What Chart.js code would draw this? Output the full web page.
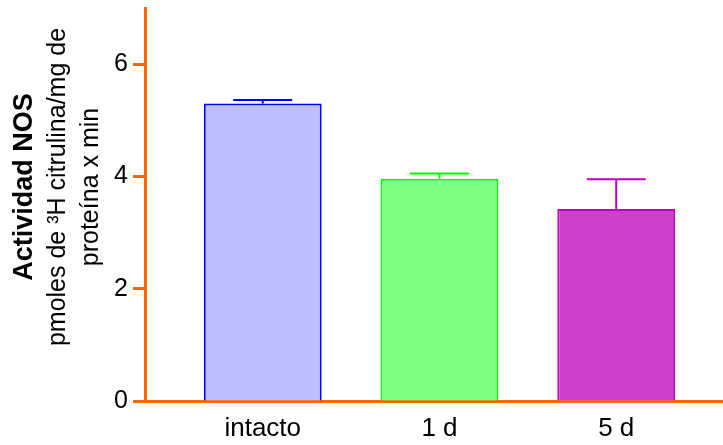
<!DOCTYPE html>
<html>
<head>
<meta charset="utf-8">
<script src="https://cdn.jsdelivr.net/npm/chart.js@4/dist/chart.umd.min.js"></script>
<style>
  html, body { margin: 0; padding: 0; background: #fff; }
</style>
</head>
<body>
<canvas id="grafico" width="723" height="445"></canvas>
<script>
// grupos y actividad NOS (media y error superior)
const grupos = ['intacto', '1 d', '5 d'];
const actividad = [5.30, 3.96, 3.42];
const errorSup = [0.06, 0.09, 0.53];
const ticksY = [0, 2, 4, 6];

const relleno = ['#BFBFFF', '#80FF80', '#CC40CC'];
const bordes = ['#0000FF', '#00FF00', '#C000C0'];
const naranja = '#FF6600';

// titulo del eje y en tres lineas (la primera en negrita)
const tituloY = {
  id: 'tituloY',
  afterDraw(chart) {
    const ctx = chart.ctx;
    const lineas = [
      { texto: 'Actividad NOS', x: 25, font: 'bold 27px "Liberation Sans", Arial, sans-serif' },
      { texto: 'pmoles de ³H citrulina/mg de', x: 58, font: '25px "Liberation Sans", Arial, sans-serif' },
      { texto: 'proteína x min', x: 91, font: '25px "Liberation Sans", Arial, sans-serif' }
    ];
    ctx.save();
    ctx.fillStyle = '#000';
    ctx.textAlign = 'center';
    ctx.textBaseline = 'middle';
    lineas.forEach((l) => {
      ctx.save();
      ctx.translate(l.x, 187);
      ctx.rotate(-Math.PI / 2);
      ctx.font = l.font;
      ctx.fillText(l.texto, 0, 0);
      ctx.restore();
    });
    ctx.restore();
  }
};

// barras de error (solo hacia arriba)
const barrasError = {
  id: 'barrasError',
  afterDatasetsDraw(chart) {
    const ctx = chart.ctx;
    const y = chart.scales.y;
    const meta = chart.getDatasetMeta(0);
    meta.data.forEach((barra, i) => {
      const yTop = y.getPixelForValue(actividad[i] + errorSup[i]);
      const media = barra.width / 4;
      ctx.save();
      ctx.strokeStyle = bordes[i];
      ctx.lineWidth = 2;
      ctx.beginPath();
      ctx.moveTo(barra.x, barra.y);
      ctx.lineTo(barra.x, yTop);
      ctx.moveTo(barra.x - media, yTop);
      ctx.lineTo(barra.x + media, yTop);
      ctx.stroke();
      ctx.restore();
    });
  }
};

const datos = grupos.map((g, i) => ({ x: i + 1, y: actividad[i] }));

new Chart(document.getElementById('grafico'), {
  type: 'bar',
  data: {
    datasets: [{
      data: datos,
      backgroundColor: relleno,
      borderColor: bordes,
      borderWidth: 2,
      categoryPercentage: 1,
      barPercentage: 0.667
    }]
  },
  options: {
    responsive: false,
    animation: false,
    devicePixelRatio: 1,
    layout: { padding: { top: 8, right: 0, left: 0, bottom: 0 } },
    plugins: {
      legend: { display: false },
      tooltip: { enabled: false }
    },
    scales: {
      x: {
        type: 'linear',
        min: 0.334,
        max: 3.604,
        offset: false,
        grid: { display: false, drawTicks: false },
        border: { display: true, color: naranja, width: 3 },
        afterBuildTicks: (scale) => {
          scale.ticks = grupos.map((g, i) => ({ value: i + 1 }));
        },
        afterFit: (scale) => {
          scale.height = 44;
          scale.paddingLeft = 0;
          scale.paddingRight = 0;
        },
        ticks: {
          color: '#000',
          padding: 12,
          maxRotation: 0,
          font: { family: '"Liberation Sans", Arial, sans-serif', size: 26 },
          callback: (v) => grupos[v - 1]
        }
      },
      y: {
        min: 0,
        max: 7,
        grid: {
          drawOnChartArea: false,
          drawTicks: true,
          tickLength: 12,
          tickColor: naranja,
          tickWidth: 3
        },
        border: { display: true, color: naranja, width: 3 },
        afterBuildTicks: (scale) => {
          scale.ticks = ticksY.map((v) => ({ value: v }));
        },
        afterFit: (scale) => {
          scale.width = 145;
          scale.paddingTop = 0;
          scale.paddingBottom = 0;
        },
        ticks: {
          color: '#000',
          padding: 5,
          font: { family: '"Liberation Sans", Arial, sans-serif', size: 25 }
        }
      }
    }
  },
  plugins: [barrasError, tituloY]
});
</script>
</body>
</html>
